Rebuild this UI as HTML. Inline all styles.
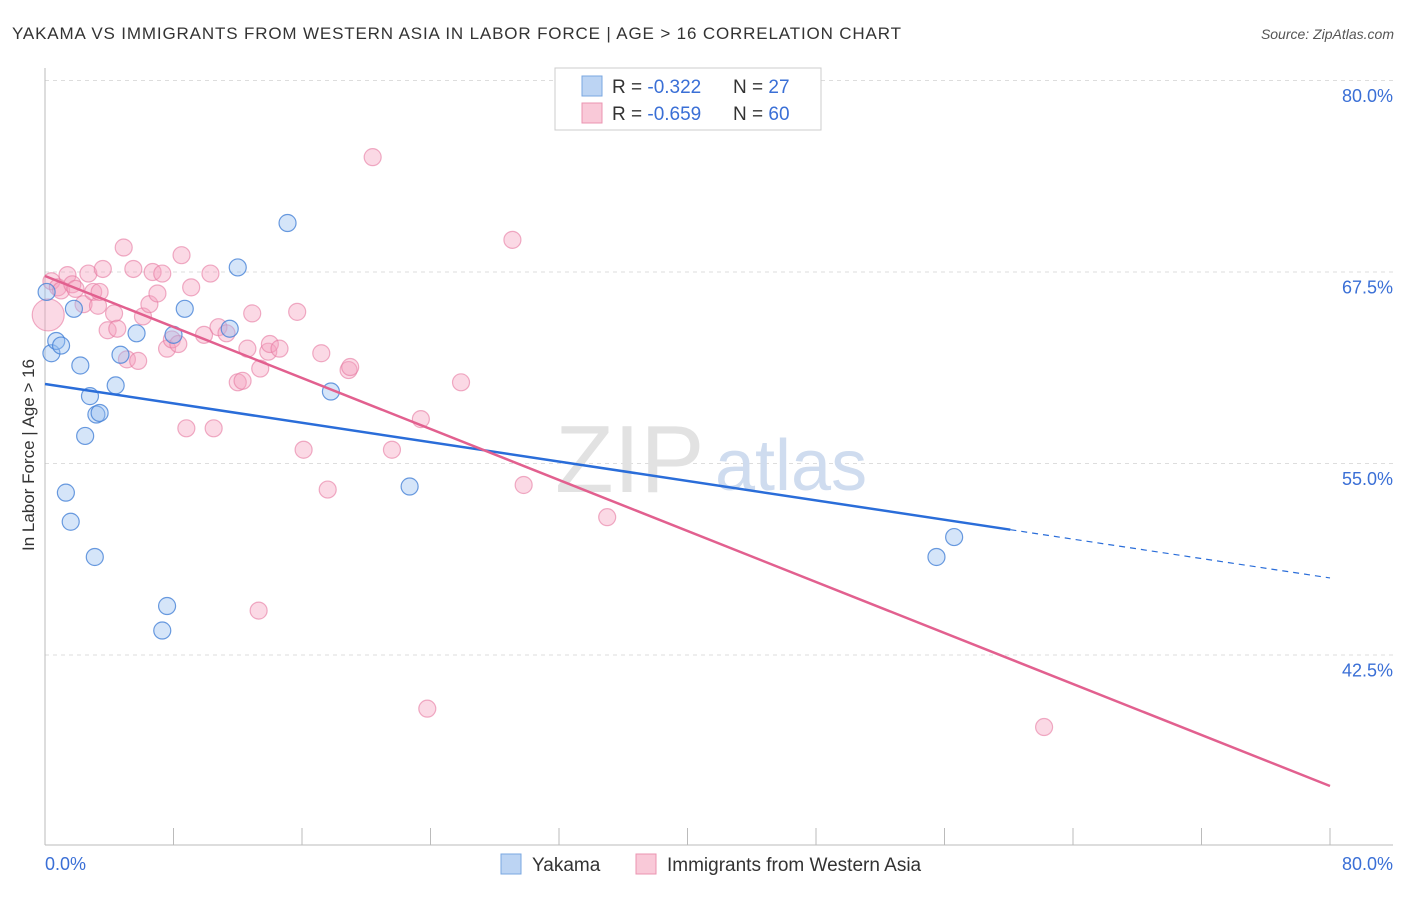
<!DOCTYPE html>
<html><head><meta charset="utf-8"><style>
body{margin:0;background:#fff;font-family:"Liberation Sans",sans-serif;}
svg text{font-family:"Liberation Sans",sans-serif;}
</style></head><body>
<svg id="chart" width="1406" height="892" xmlns="http://www.w3.org/2000/svg">
<text x="12" y="39" font-size="17" letter-spacing="0.85" fill="#333">YAKAMA VS IMMIGRANTS FROM WESTERN ASIA IN LABOR FORCE | AGE &gt; 16 CORRELATION CHART</text>
<text x="1394" y="39" font-size="14" fill="#555" font-style="italic" text-anchor="end">Source: ZipAtlas.com</text>
<g id="grid"></g>
<g id="axes"></g>
<text x="555" y="492" font-size="96" fill="#e2e2e2" font-family="Liberation Serif">ZIP</text>
<text x="715" y="490" font-size="72" fill="#cfdcef">atlas</text>
<g id="pts"></g>
<g id="lines"></g>
<text transform="translate(34,455) rotate(-90)" font-size="17" fill="#333" text-anchor="middle">In Labor Force | Age &gt; 16</text>
<g>
<rect x="555" y="68" width="266" height="62" fill="#fff" stroke="#ccc"/>
<rect x="582" y="76" width="20" height="20" fill="#bcd4f3" stroke="#7aa7e0"/>
<rect x="582" y="103" width="20" height="20" fill="#f9c9d8" stroke="#eb94b1"/>
<text x="612" y="93" font-size="19" fill="#333">R = <tspan fill="#3a6fd6">-0.322</tspan></text>
<text x="733" y="93" font-size="19" fill="#333">N = <tspan fill="#3a6fd6">27</tspan></text>
<text x="612" y="120" font-size="19" fill="#333">R = <tspan fill="#3a6fd6">-0.659</tspan></text>
<text x="733" y="120" font-size="19" fill="#333">N = <tspan fill="#3a6fd6">60</tspan></text>
</g>
<g>
<rect x="501" y="854" width="20" height="20" fill="#bcd4f3" stroke="#7aa7e0"/>
<text x="532" y="871" font-size="19" fill="#333">Yakama</text>
<rect x="636" y="854" width="20" height="20" fill="#f9c9d8" stroke="#eb94b1"/>
<text x="667" y="871" font-size="19" fill="#333">Immigrants from Western Asia</text>
</g>
</svg>
<script>
const yTicks=[80,67.5,55,42.5];
const yTickLabels=["80.0%","67.5%","55.0%","42.5%"];
const xTicks=[0,8,16,24,32,40,48,56,64,72,80];
const blueX=[0.1,0.4,0.7,1.0,1.8,2.2,2.8,3.2,3.4,2.5,1.3,1.6,3.1,4.7,4.4,5.7,8.0,8.7,11.5,12.0,15.1,17.8,22.7,7.6,7.3,55.5,56.6];
const blueY=[66.1,62.1,62.9,62.6,65.0,61.3,59.3,58.1,58.2,56.7,53.0,51.1,48.8,62.0,60.0,63.4,63.3,65.0,63.7,67.7,70.6,59.6,53.4,45.6,44.0,48.8,50.1];
const pinkX=[0.2,0.4,0.8,1.0,1.4,1.7,1.9,2.4,2.7,3.0,3.3,3.6,3.9,4.3,4.5,4.9,5.1,5.5,5.8,6.1,6.5,6.7,7.0,7.3,7.6,7.9,8.3,8.5,8.8,9.1,9.9,10.3,10.5,10.8,11.3,12.0,12.3,12.6,12.9,13.4,13.3,13.9,14.0,14.6,15.7,16.1,17.2,17.6,18.9,19.0,20.4,21.6,23.4,23.8,25.9,29.1,29.8,35.0,62.2,3.4];
const pinkY=[64.6,66.8,66.4,66.2,67.2,66.6,66.3,65.3,67.3,66.1,65.2,67.6,63.6,64.7,63.7,69.0,61.7,67.6,61.6,64.5,65.3,67.4,66.0,67.3,62.4,63.0,62.7,68.5,57.2,66.4,63.3,67.3,57.2,63.8,63.4,60.2,60.3,62.4,64.7,61.1,45.3,62.2,62.7,62.4,64.8,55.8,62.1,53.2,61.0,61.2,74.9,55.8,57.8,38.9,60.2,69.5,53.5,51.4,37.7,66.1];
const blueLine=[60.19,47.53,60.1];
const pinkLine=[67.24,33.95];
const NS="http://www.w3.org/2000/svg";
const sx=v=>45+v/80*1285;
const sy=v=>79+(80-v)/12.5*191.5;
function mk(p,t,a){const e=document.createElementNS(NS,t);for(const k in a)e.setAttribute(k,a[k]);p.appendChild(e);return e;}
const grid=document.getElementById('grid'),axes=document.getElementById('axes'),pts=document.getElementById('pts'),lines=document.getElementById('lines');
yTicks.forEach((t,i)=>{
 const l=mk(grid,'line',{x1:45,x2:1393,y1:sy(t)+1.5,y2:sy(t)+1.5,stroke:'#ddd','stroke-dasharray':'4,4'});
 
 
 const tx=mk(axes,'text',{x:1393,y:sy(t)+23,'font-size':18,fill:'#3a6fd6','text-anchor':'end'});
 tx.textContent=yTickLabels[i];
 
 
});
mk(axes,'line',{x1:45,x2:45,y1:68,y2:845,stroke:'#bbb'});
mk(axes,'line',{x1:45,x2:1393,y1:845,y2:845,stroke:'#bbb'});
xTicks.forEach(t=>{const l=mk(axes,'line',{x1:sx(t),x2:sx(t),y1:828,y2:845,stroke:'#bbb'});
 
 });
const x0=mk(axes,'text',{x:45,y:870,'font-size':18,fill:'#3a6fd6'});x0.textContent='0.0%';


const x1=mk(axes,'text',{x:1393,y:870,'font-size':18,fill:'#3a6fd6','text-anchor':'end'});x1.textContent='80.0%';


pinkX.forEach((x,i)=>{const c=mk(pts,'circle',{cx:sx(x),cy:sy(pinkY[i]),r:i==0?16:8.5,fill:'rgba(245,160,190,0.4)',stroke:'rgba(230,120,160,0.6)','stroke-width':1.2});
 
 });
blueX.forEach((x,i)=>{const c=mk(pts,'circle',{cx:sx(x),cy:sy(blueY[i]),r:8.5,fill:'rgba(150,190,240,0.4)',stroke:'rgba(70,130,215,0.8)','stroke-width':1.2});
 
 });
const by=x=>blueLine[0]+(blueLine[1]-blueLine[0])*x/80;
const bl=mk(lines,'line',{x1:sx(0),y1:sy(by(0))+1.5,x2:sx(blueLine[2]),y2:sy(by(blueLine[2]))+1.5,stroke:'#2a6dd9','stroke-width':2.5});


const bd=mk(lines,'line',{x1:sx(blueLine[2]),y1:sy(by(blueLine[2]))+1.5,x2:sx(80),y2:sy(by(80))+1.5,stroke:'#2a6dd9','stroke-width':1.2,'stroke-dasharray':'6,5'});


const pl=mk(lines,'line',{x1:sx(0),y1:sy(pinkLine[0])+1.5,x2:sx(80),y2:sy(pinkLine[1])+1.5,stroke:'#e2608f','stroke-width':2.5});


</script>
</body></html>
